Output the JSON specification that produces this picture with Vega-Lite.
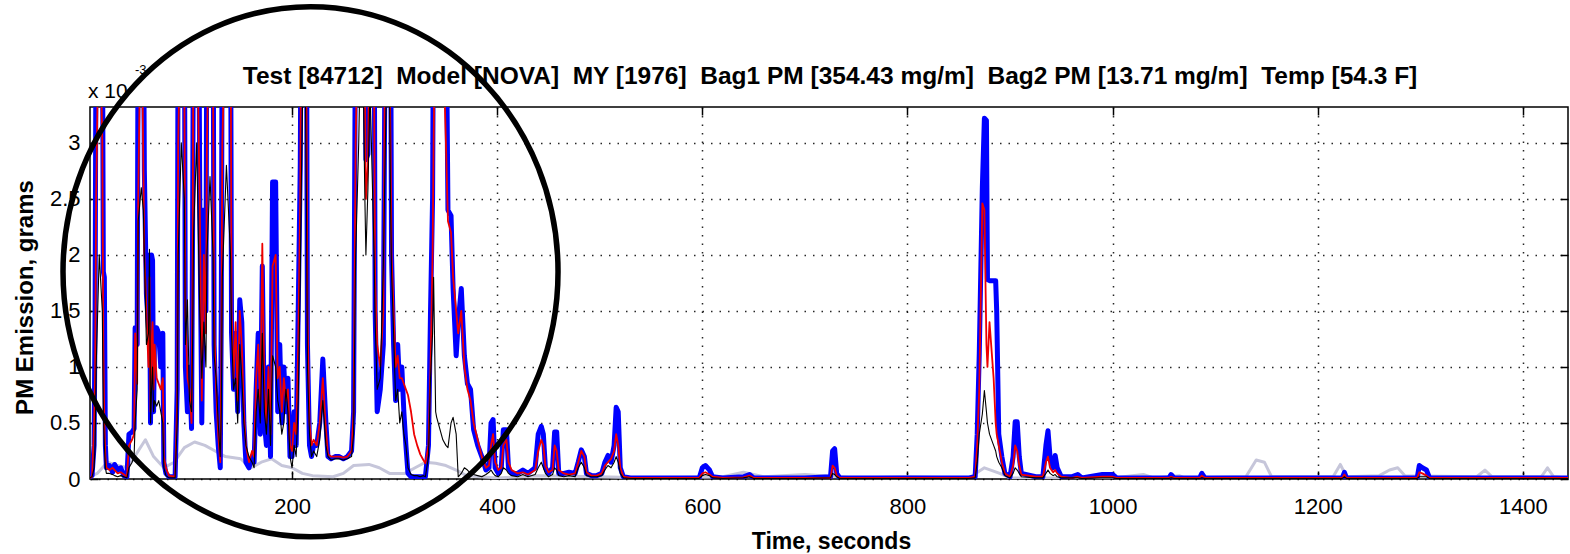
{
  "$schema": "https://vega.github.io/schema/vega-lite/v6.json",
  "autosize": "none",
  "width": 1478,
  "height": 372,
  "padding": {"left": 90, "top": 107, "right": 2, "bottom": 75},
  "background": "white",
  "config": {
    "view": {"stroke": "black", "strokeWidth": 1.5},
    "font": "Liberation Sans",
    "axis": {"labelFont": "Liberation Sans", "titleFont": "Liberation Sans", "labelColor": "black", "titleColor": "black"}
  },
  "datasets": {
    "main": [
      {"t":3,"b":0.02,"r":0.01,"k":0.01},
      {"t":5,"b":0.03,"r":0.02,"k":0.02},
      {"t":7,"b":0.3,"r":0.5,"k":0.1},
      {"t":8,"b":1.55,"r":0.95,"k":0.3},
      {"t":9,"b":4.5,"r":2.5,"k":1.0},
      {"t":12,"b":4.5,"r":4.5,"k":2.0},
      {"t":15,"b":4.5,"r":3.0,"k":1.5},
      {"t":16,"b":1.85,"r":1.2,"k":0.6},
      {"t":17,"b":1.8,"r":0.5,"k":0.3},
      {"t":18,"b":0.3,"r":0.2,"k":0.1},
      {"t":19,"b":0.1,"r":0.1,"k":0.05},
      {"t":22,"b":0.12,"r":0.08,"k":0.05},
      {"t":25,"b":0.06,"r":0.1,"k":0.04},
      {"t":27,"b":0.13,"r":0.08,"k":0.03},
      {"t":30,"b":0.08,"r":0.05,"k":0.02},
      {"t":33,"b":0.1,"r":0.06,"k":0.03},
      {"t":36,"b":0.03,"r":0.04,"k":0.02},
      {"t":39,"b":0.02,"r":0.02,"k":0.01},
      {"t":41,"b":0.4,"r":0.3,"k":0.1},
      {"t":44,"b":0.42,"r":0.35,"k":0.15},
      {"t":46,"b":0.45,"r":0.4,"k":0.2},
      {"t":47,"b":1.35,"r":1.3,"k":0.5},
      {"t":49,"b":1.2,"r":0.85,"k":0.8},
      {"t":50,"b":4.5,"r":2.5,"k":2.3},
      {"t":53,"b":4.5,"r":4.5,"k":2.6},
      {"t":55,"b":4.5,"r":2.8,"k":2.4},
      {"t":56,"b":2.75,"r":2.0,"k":2.0},
      {"t":58,"b":1.65,"r":1.5,"k":1.2},
      {"t":60,"b":1.35,"r":1.0,"k":1.3},
      {"t":61,"b":2.0,"r":1.8,"k":2.05},
      {"t":62,"b":0.5,"r":0.6,"k":0.5},
      {"t":63,"b":2.0,"r":1.2,"k":0.8},
      {"t":64,"b":1.95,"r":1.4,"k":1.0},
      {"t":65,"b":0.6,"r":0.8,"k":0.6},
      {"t":66,"b":1.35,"r":1.2,"k":0.7},
      {"t":68,"b":1.35,"r":0.9,"k":0.65},
      {"t":70,"b":1.3,"r":0.85,"k":0.7},
      {"t":72,"b":1.0,"r":0.8,"k":0.6},
      {"t":74,"b":1.3,"r":0.9,"k":0.5},
      {"t":75,"b":0.15,"r":0.2,"k":0.1},
      {"t":77,"b":0.05,"r":0.1,"k":0.03},
      {"t":80,"b":0.02,"r":0.03,"k":0.01},
      {"t":86,"b":0.02,"r":0.02,"k":0.01},
      {"t":88,"b":0.8,"r":0.7,"k":0.5},
      {"t":89,"b":4.5,"r":3.0,"k":2.0},
      {"t":92,"b":4.5,"r":4.5,"k":3.0},
      {"t":95,"b":4.5,"r":3.5,"k":2.5},
      {"t":96,"b":1.0,"r":1.5,"k":1.2},
      {"t":98,"b":0.6,"r":0.9,"k":1.6},
      {"t":100,"b":1.0,"r":0.8,"k":0.7},
      {"t":102,"b":0.45,"r":0.5,"k":0.6},
      {"t":103,"b":2.2,"r":1.8,"k":1.2},
      {"t":104,"b":4.5,"r":4.5,"k":2.2},
      {"t":107,"b":4.5,"r":4.5,"k":3.0},
      {"t":109,"b":4.5,"r":3.0,"k":2.0},
      {"t":110,"b":2.5,"r":2.5,"k":1.5},
      {"t":112,"b":0.5,"r":0.7,"k":0.9},
      {"t":114,"b":2.4,"r":2.0,"k":1.4},
      {"t":116,"b":1.5,"r":1.3,"k":1.0},
      {"t":117,"b":4.5,"r":3.0,"k":2.0},
      {"t":120,"b":4.5,"r":4.5,"k":2.7},
      {"t":123,"b":4.5,"r":3.5,"k":2.0},
      {"t":124,"b":1.2,"r":1.4,"k":1.1},
      {"t":126,"b":0.6,"r":0.8,"k":0.9},
      {"t":128,"b":0.3,"r":0.4,"k":0.5},
      {"t":130,"b":0.1,"r":0.15,"k":0.2},
      {"t":131,"b":1.5,"r":1.0,"k":0.6},
      {"t":132,"b":4.5,"r":3.0,"k":1.8},
      {"t":136,"b":4.5,"r":4.5,"k":2.8},
      {"t":140,"b":4.5,"r":4.5,"k":2.0},
      {"t":141,"b":1.3,"r":1.5,"k":1.3},
      {"t":143,"b":0.8,"r":0.9,"k":0.8},
      {"t":145,"b":1.3,"r":1.4,"k":0.9},
      {"t":147,"b":0.6,"r":0.7,"k":0.5},
      {"t":149,"b":1.6,"r":1.5,"k":1.2},
      {"t":151,"b":1.4,"r":1.2,"k":0.9},
      {"t":153,"b":0.5,"r":0.6,"k":0.5},
      {"t":155,"b":0.15,"r":0.3,"k":0.3},
      {"t":158,"b":0.1,"r":0.15,"k":0.2},
      {"t":161,"b":0.2,"r":0.25,"k":0.15},
      {"t":163,"b":0.15,"r":0.2,"k":0.1},
      {"t":165,"b":0.8,"r":0.9,"k":0.6},
      {"t":167,"b":1.3,"r":1.2,"k":0.8},
      {"t":169,"b":0.4,"r":0.6,"k":0.5},
      {"t":171,"b":1.9,"r":2.1,"k":1.3},
      {"t":173,"b":0.5,"r":0.8,"k":0.6},
      {"t":175,"b":0.3,"r":0.5,"k":0.4},
      {"t":177,"b":1.0,"r":1.0,"k":0.8},
      {"t":179,"b":0.2,"r":0.4,"k":0.3},
      {"t":181,"b":2.65,"r":1.9,"k":1.1},
      {"t":184,"b":2.65,"r":2.0,"k":1.0},
      {"t":186,"b":0.6,"r":0.9,"k":0.7},
      {"t":188,"b":1.2,"r":1.0,"k":0.6},
      {"t":190,"b":0.5,"r":0.6,"k":0.4},
      {"t":192,"b":1.0,"r":0.9,"k":0.5},
      {"t":194,"b":0.6,"r":0.7,"k":0.8},
      {"t":196,"b":0.9,"r":0.8,"k":0.6},
      {"t":198,"b":0.2,"r":0.3,"k":0.2},
      {"t":200,"b":0.2,"r":0.25,"k":0.1},
      {"t":202,"b":0.6,"r":0.5,"k":0.3},
      {"t":204,"b":0.3,"r":0.4,"k":0.2},
      {"t":206,"b":1.5,"r":1.2,"k":0.7},
      {"t":208,"b":2.8,"r":2.5,"k":1.8},
      {"t":209,"b":4.5,"r":4.5,"k":2.6},
      {"t":212,"b":4.5,"r":4.5,"k":4.5},
      {"t":214,"b":4.5,"r":3.5,"k":2.5},
      {"t":215,"b":1.2,"r":1.5,"k":1.0},
      {"t":217,"b":0.3,"r":0.5,"k":0.4},
      {"t":219,"b":0.2,"r":0.3,"k":0.2},
      {"t":221,"b":0.3,"r":0.35,"k":0.25},
      {"t":224,"b":0.3,"r":0.3,"k":0.2},
      {"t":227,"b":0.5,"r":0.5,"k":0.35},
      {"t":230,"b":1.07,"r":0.9,"k":0.7},
      {"t":233,"b":0.5,"r":0.45,"k":0.3},
      {"t":235,"b":0.2,"r":0.22,"k":0.2},
      {"t":238,"b":0.18,"r":0.2,"k":0.17},
      {"t":242,"b":0.2,"r":0.2,"k":0.18},
      {"t":246,"b":0.2,"r":0.2,"k":0.18},
      {"t":250,"b":0.18,"r":0.19,"k":0.17},
      {"t":254,"b":0.2,"r":0.2,"k":0.18},
      {"t":258,"b":0.25,"r":0.25,"k":0.2},
      {"t":260,"b":0.6,"r":0.6,"k":0.4},
      {"t":262,"b":4.5,"r":3.0,"k":2.0},
      {"t":265,"b":4.5,"r":4.5,"k":3.0},
      {"t":268,"b":4.5,"r":4.5,"k":4.5},
      {"t":271,"b":4.5,"r":3.5,"k":2.5},
      {"t":272,"b":2.85,"r":2.5,"k":2.0},
      {"t":274,"b":2.9,"r":2.8,"k":2.6},
      {"t":276,"b":4.5,"r":4.5,"k":3.5},
      {"t":280,"b":4.5,"r":3.5,"k":2.0},
      {"t":281,"b":1.5,"r":1.8,"k":1.4},
      {"t":283,"b":0.6,"r":1.2,"k":0.8},
      {"t":286,"b":0.8,"r":1.0,"k":0.9},
      {"t":289,"b":1.2,"r":1.5,"k":1.9},
      {"t":291,"b":4.5,"r":4.5,"k":3.0},
      {"t":294,"b":4.5,"r":4.5,"k":4.5},
      {"t":296,"b":4.5,"r":3.0,"k":2.5},
      {"t":297,"b":2.0,"r":2.0,"k":1.85},
      {"t":299,"b":1.2,"r":1.5,"k":1.3},
      {"t":301,"b":0.7,"r":1.0,"k":0.7},
      {"t":303,"b":1.2,"r":1.1,"k":0.8},
      {"t":305,"b":0.8,"r":0.9,"k":0.5},
      {"t":307,"b":1.0,"r":0.9,"k":0.6},
      {"t":309,"b":0.6,"r":0.85,"k":0.4},
      {"t":311,"b":0.3,"r":0.8,"k":0.3},
      {"t":313,"b":0.05,"r":0.75,"k":0.1},
      {"t":316,"b":0.02,"r":0.6,"k":0.04},
      {"t":319,"b":0.02,"r":0.4,"k":0.03},
      {"t":322,"b":0.02,"r":0.3,"k":0.03},
      {"t":325,"b":0.02,"r":0.22,"k":0.02},
      {"t":328,"b":0.02,"r":0.17,"k":0.03},
      {"t":330,"b":0.02,"r":0.14,"k":0.02},
      {"t":333,"b":0.3,"r":0.3,"k":0.2},
      {"t":335,"b":1.5,"r":1.0,"k":0.9},
      {"t":337,"b":2.5,"r":2.0,"k":1.3},
      {"t":338,"b":4.5,"r":3.0,"k":1.8},
      {"t":340,"b":4.5,"r":4.5,"k":0.6},
      {"t":341,"b":4.5,"r":4.5,"k":0.55},
      {"t":344,"b":4.5,"r":4.5,"k":0.45},
      {"t":347,"b":4.5,"r":4.0,"k":0.35},
      {"t":350,"b":4.5,"r":3.0,"k":0.3},
      {"t":352,"b":2.4,"r":2.3,"k":0.28},
      {"t":355,"b":2.35,"r":2.2,"k":0.5},
      {"t":357,"b":1.7,"r":1.8,"k":0.55},
      {"t":360,"b":1.1,"r":1.5,"k":0.4},
      {"t":362,"b":1.4,"r":1.3,"k":0.02},
      {"t":365,"b":1.7,"r":1.5,"k":0.05},
      {"t":368,"b":1.1,"r":1.0,"k":0.1},
      {"t":371,"b":0.85,"r":0.8,"k":0.08},
      {"t":374,"b":0.8,"r":0.7,"k":0.05},
      {"t":377,"b":0.44,"r":0.5,"k":0.04},
      {"t":381,"b":0.3,"r":0.35,"k":0.03},
      {"t":385,"b":0.2,"r":0.2,"k":0.02},
      {"t":389,"b":0.08,"r":0.1,"k":0.04},
      {"t":392,"b":0.1,"r":0.12,"k":0.06},
      {"t":394,"b":0.5,"r":0.3,"k":0.08},
      {"t":396,"b":0.53,"r":0.4,"k":0.05},
      {"t":398,"b":0.1,"r":0.15,"k":0.03},
      {"t":401,"b":0.05,"r":0.08,"k":0.02},
      {"t":404,"b":0.1,"r":0.1,"k":0.05},
      {"t":406,"b":0.44,"r":0.3,"k":0.1},
      {"t":409,"b":0.44,"r":0.35,"k":0.08},
      {"t":411,"b":0.1,"r":0.15,"k":0.05},
      {"t":414,"b":0.05,"r":0.08,"k":0.03},
      {"t":420,"b":0.05,"r":0.05,"k":0.02},
      {"t":425,"b":0.08,"r":0.06,"k":0.04},
      {"t":430,"b":0.05,"r":0.04,"k":0.02},
      {"t":437,"b":0.1,"r":0.08,"k":0.04},
      {"t":440,"b":0.4,"r":0.25,"k":0.1},
      {"t":443,"b":0.47,"r":0.35,"k":0.15},
      {"t":445,"b":0.4,"r":0.3,"k":0.1},
      {"t":447,"b":0.1,"r":0.12,"k":0.05},
      {"t":450,"b":0.05,"r":0.06,"k":0.02},
      {"t":454,"b":0.1,"r":0.08,"k":0.04},
      {"t":456,"b":0.42,"r":0.3,"k":0.1},
      {"t":458,"b":0.42,"r":0.25,"k":0.08},
      {"t":460,"b":0.05,"r":0.08,"k":0.03},
      {"t":465,"b":0.05,"r":0.05,"k":0.02},
      {"t":470,"b":0.06,"r":0.04,"k":0.03},
      {"t":476,"b":0.05,"r":0.05,"k":0.02},
      {"t":479,"b":0.15,"r":0.15,"k":0.1},
      {"t":482,"b":0.26,"r":0.25,"k":0.15},
      {"t":485,"b":0.2,"r":0.2,"k":0.1},
      {"t":487,"b":0.05,"r":0.06,"k":0.03},
      {"t":492,"b":0.03,"r":0.03,"k":0.02},
      {"t":497,"b":0.03,"r":0.03,"k":0.02},
      {"t":502,"b":0.05,"r":0.05,"k":0.03},
      {"t":505,"b":0.15,"r":0.12,"k":0.08},
      {"t":508,"b":0.21,"r":0.15,"k":0.12},
      {"t":511,"b":0.15,"r":0.18,"k":0.1},
      {"t":514,"b":0.3,"r":0.25,"k":0.15},
      {"t":516,"b":0.64,"r":0.4,"k":0.2},
      {"t":518,"b":0.6,"r":0.3,"k":0.15},
      {"t":520,"b":0.1,"r":0.1,"k":0.05},
      {"t":523,"b":0.02,"r":0.02,"k":0.01},
      {"t":530,"b":0.01,"r":0.01,"k":0.005},
      {"t":560,"b":0.01,"r":0.01,"k":0.005},
      {"t":597,"b":0.01,"r":0.01,"k":0.005},
      {"t":600,"b":0.1,"r":0.05,"k":0.03},
      {"t":603,"b":0.12,"r":0.06,"k":0.04},
      {"t":607,"b":0.08,"r":0.04,"k":0.03},
      {"t":610,"b":0.02,"r":0.02,"k":0.01},
      {"t":620,"b":0.01,"r":0.01,"k":0.005},
      {"t":640,"b":0.02,"r":0.015,"k":0.01},
      {"t":646,"b":0.04,"r":0.03,"k":0.02},
      {"t":650,"b":0.01,"r":0.01,"k":0.005},
      {"t":700,"b":0.01,"r":0.01,"k":0.005},
      {"t":725,"b":0.02,"r":0.01,"k":0.01},
      {"t":727,"b":0.25,"r":0.12,"k":0.05},
      {"t":729,"b":0.27,"r":0.1,"k":0.04},
      {"t":731,"b":0.05,"r":0.03,"k":0.02},
      {"t":734,"b":0.01,"r":0.01,"k":0.005},
      {"t":800,"b":0.01,"r":0.01,"k":0.005},
      {"t":860,"b":0.01,"r":0.01,"k":0.005},
      {"t":866,"b":0.02,"r":0.02,"k":0.01},
      {"t":868,"b":0.4,"r":0.3,"k":0.15},
      {"t":870,"b":1.12,"r":0.8,"k":0.4},
      {"t":873,"b":2.6,"r":2.46,"k":0.58},
      {"t":875,"b":3.22,"r":2.4,"k":0.79},
      {"t":877,"b":3.2,"r":1.2,"k":0.6},
      {"t":878,"b":1.78,"r":1.0,"k":0.5},
      {"t":880,"b":1.77,"r":1.4,"k":0.4},
      {"t":884,"b":1.77,"r":0.9,"k":0.3},
      {"t":886,"b":1.77,"r":0.5,"k":0.25},
      {"t":887,"b":1.5,"r":0.4,"k":0.2},
      {"t":889,"b":0.4,"r":0.3,"k":0.15},
      {"t":892,"b":0.2,"r":0.15,"k":0.1},
      {"t":895,"b":0.05,"r":0.05,"k":0.03},
      {"t":900,"b":0.02,"r":0.02,"k":0.01},
      {"t":903,"b":0.2,"r":0.12,"k":0.05},
      {"t":905,"b":0.51,"r":0.3,"k":0.1},
      {"t":907,"b":0.51,"r":0.25,"k":0.08},
      {"t":909,"b":0.2,"r":0.12,"k":0.05},
      {"t":911,"b":0.05,"r":0.04,"k":0.02},
      {"t":925,"b":0.02,"r":0.02,"k":0.01},
      {"t":932,"b":0.02,"r":0.02,"k":0.01},
      {"t":935,"b":0.3,"r":0.15,"k":0.05},
      {"t":937,"b":0.43,"r":0.2,"k":0.08},
      {"t":939,"b":0.2,"r":0.1,"k":0.05},
      {"t":942,"b":0.1,"r":0.06,"k":0.03},
      {"t":944,"b":0.21,"r":0.08,"k":0.04},
      {"t":946,"b":0.1,"r":0.05,"k":0.02},
      {"t":950,"b":0.02,"r":0.02,"k":0.01},
      {"t":960,"b":0.02,"r":0.01,"k":0.01},
      {"t":966,"b":0.04,"r":0.02,"k":0.01},
      {"t":970,"b":0.01,"r":0.01,"k":0.005},
      {"t":990,"b":0.04,"r":0.02,"k":0.01},
      {"t":1000,"b":0.04,"r":0.02,"k":0.01},
      {"t":1004,"b":0.01,"r":0.01,"k":0.005},
      {"t":1055,"b":0.01,"r":0.01,"k":0.005},
      {"t":1057,"b":0.04,"r":0.02,"k":0.01},
      {"t":1060,"b":0.01,"r":0.01,"k":0.005},
      {"t":1085,"b":0.01,"r":0.01,"k":0.005},
      {"t":1087,"b":0.05,"r":0.03,"k":0.01},
      {"t":1090,"b":0.01,"r":0.01,"k":0.005},
      {"t":1224,"b":0.01,"r":0.01,"k":0.005},
      {"t":1226,"b":0.06,"r":0.04,"k":0.02},
      {"t":1228,"b":0.01,"r":0.01,"k":0.005},
      {"t":1297,"b":0.01,"r":0.01,"k":0.005},
      {"t":1299,"b":0.12,"r":0.06,"k":0.02},
      {"t":1302,"b":0.1,"r":0.05,"k":0.02},
      {"t":1306,"b":0.08,"r":0.03,"k":0.02},
      {"t":1309,"b":0.01,"r":0.01,"k":0.005},
      {"t":1444,"b":0.01,"r":0.01,"k":0.005}
    ],
    "gray": [
      {"t":3,"v":0.02},{"t":10,"v":0.05},{"t":20,"v":0.15},{"t":30,"v":0.12},{"t":40,"v":0.1},
      {"t":50,"v":0.25},{"t":57,"v":0.35},{"t":65,"v":0.2},{"t":75,"v":0.1},{"t":85,"v":0.15},
      {"t":95,"v":0.28},{"t":105,"v":0.33},{"t":115,"v":0.3},{"t":125,"v":0.25},{"t":135,"v":0.2},
      {"t":150,"v":0.18},{"t":160,"v":0.1},{"t":170,"v":0.15},{"t":180,"v":0.18},{"t":190,"v":0.12},
      {"t":200,"v":0.1},{"t":210,"v":0.05},{"t":220,"v":0.03},{"t":240,"v":0.02},{"t":250,"v":0.05},
      {"t":260,"v":0.12},{"t":275,"v":0.13},{"t":285,"v":0.1},{"t":295,"v":0.05},{"t":310,"v":0.05},
      {"t":320,"v":0.1},{"t":330,"v":0.15},{"t":340,"v":0.14},{"t":350,"v":0.12},{"t":360,"v":0.08},
      {"t":370,"v":0.03},{"t":400,"v":0.01},{"t":440,"v":0.03},{"t":500,"v":0.02},{"t":550,"v":0.01},
      {"t":620,"v":0.02},{"t":640,"v":0.06},{"t":660,"v":0.02},{"t":700,"v":0.04},{"t":750,"v":0.01},
      {"t":800,"v":0.02},{"t":860,"v":0.01},{"t":875,"v":0.1},{"t":890,"v":0.05},{"t":900,"v":0.01},
      {"t":1000,"v":0.01},{"t":1030,"v":0.04},{"t":1040,"v":0.01},{"t":1065,"v":0.03},{"t":1070,"v":0.01},
      {"t":1130,"v":0.02},{"t":1140,"v":0.17},{"t":1148,"v":0.15},{"t":1155,"v":0.02},{"t":1215,"v":0.02},
      {"t":1222,"v":0.13},{"t":1228,"v":0.02},{"t":1260,"v":0.03},{"t":1270,"v":0.08},{"t":1278,"v":0.1},
      {"t":1285,"v":0.03},{"t":1355,"v":0.02},{"t":1363,"v":0.08},{"t":1370,"v":0.02},{"t":1418,"v":0.02},
      {"t":1424,"v":0.1},{"t":1430,"v":0.02},{"t":1444,"v":0.01}
    ],
    "ring": [{"t":218,"v":1.85}],
    "titles": [{"t":724.5,"v":3.32,"label":"Test [84712]\u00a0\u00a0Model [NOVA]\u00a0\u00a0MY [1976]\u00a0\u00a0Bag1 PM [354.43 mg/m]\u00a0\u00a0Bag2 PM [13.71 mg/m]\u00a0\u00a0Temp [54.3 F]"}]
  },
  "resolve": {"axis": {"x": "independent", "y": "independent"}},
  "layer": [
    {
      "data": {"name": "gray"},
      "mark": {"type": "line", "clip": true, "color": "#c6c6da", "strokeWidth": 3, "strokeJoin": "round"},
      "encoding": {
        "x": {"field": "t", "type": "quantitative",
          "scale": {"domain": [3, 1444], "nice": false, "zero": false},
          "axis": {"orient": "bottom", "values": [200,400,600,800,1000,1200,1400], "format": "d",
            "labelFontSize": 22, "labelPadding": 25, "tickSize": -8, "tickColor": "black", "tickWidth": 1.5,
            "domain": false, "grid": true, "gridColor": "black", "gridDash": [1.5, 7], "gridWidth": 1.5, "gridOpacity": 0.85,
            "title": "Time, seconds", "titleFontSize": 23, "titleFontWeight": "bold",
            "titleX": 741, "titleY": 62, "titleBaseline": "middle", "titleAlign": "center"}},
        "y": {"field": "v", "type": "quantitative",
          "scale": {"domain": [0, 3.32], "nice": false, "zero": true},
          "axis": {"orient": "left", "values": [0,0.5,1,1.5,2,2.5,3], "format": "~g",
            "labelFontSize": 22, "labelPadding": 18, "tickSize": -8, "tickColor": "black", "tickWidth": 1.5,
            "domain": false, "grid": true, "gridColor": "black", "gridDash": [1.5, 7], "gridWidth": 1.5, "gridOpacity": 0.85,
            "title": "PM Emission, grams", "titleFontSize": 24, "titleFontWeight": "bold",
            "titleX": -65, "titleY": 190, "titleAngle": -90, "titleBaseline": "middle", "titleAlign": "center"}}
      }
    },
    {
      "data": {"name": "main"},
      "mark": {"type": "line", "clip": true, "color": "#0000ff", "strokeWidth": 5, "strokeJoin": "round"},
      "encoding": {
        "x": {"field": "t", "type": "quantitative", "axis": null},
        "y": {"field": "b", "type": "quantitative", "axis": null}
      }
    },
    {
      "data": {"name": "main"},
      "mark": {"type": "line", "clip": true, "color": "#ee0000", "strokeWidth": 1.8, "strokeJoin": "round"},
      "encoding": {
        "x": {"field": "t", "type": "quantitative", "axis": null},
        "y": {"field": "r", "type": "quantitative", "axis": null}
      }
    },
    {
      "data": {"name": "main"},
      "mark": {"type": "line", "clip": true, "color": "#000000", "strokeWidth": 1.1, "strokeJoin": "round"},
      "encoding": {
        "x": {"field": "t", "type": "quantitative", "axis": null},
        "y": {"field": "k", "type": "quantitative", "axis": null}
      }
    },
    {
      "data": {"name": "titles"},
      "mark": {"type": "text", "fontSize": 24.5, "fontWeight": "bold", "align": "center", "baseline": "middle", "dy": -30, "color": "black", "font": "Liberation Sans"},
      "encoding": {
        "x": {"field": "t", "type": "quantitative", "axis": null},
        "y": {"field": "v", "type": "quantitative", "axis": null},
        "text": {"field": "label"}
      }
    },
    {
      "data": {"name": "ring"},
      "mark": {"type": "text", "text": "x 10", "fontSize": 21, "align": "left", "baseline": "middle", "dx": -2, "dy": -15, "color": "black"},
      "encoding": {
        "x": {"datum": 3, "type": "quantitative", "axis": null},
        "y": {"datum": 3.32, "type": "quantitative", "axis": null}
      }
    },
    {
      "data": {"name": "ring"},
      "mark": {"type": "text", "text": "-3", "fontSize": 13, "align": "left", "baseline": "middle", "dx": 45, "dy": -37, "color": "black"},
      "encoding": {
        "x": {"datum": 3, "type": "quantitative", "axis": null},
        "y": {"datum": 3.32, "type": "quantitative", "axis": null}
      }
    },
    {
      "data": {"name": "ring"},
      "mark": {"type": "point", "shape": "M0,-1C0.5158,-1 0.934,-0.5523 0.934,0C0.934,0.5523 0.5158,1 0,1C-0.5158,1 -0.934,0.5523 -0.934,0C-0.934,-0.5523 -0.5158,-1 0,-1Z",
        "size": 280900, "filled": false, "stroke": "black", "strokeWidth": 5.5, "opacity": 1, "clip": false},
      "encoding": {
        "x": {"field": "t", "type": "quantitative", "axis": null},
        "y": {"field": "v", "type": "quantitative", "axis": null}
      }
    },
    {
      "data": {"name": "ring"},
      "mark": {"type": "point", "opacity": 0, "size": 1},
      "encoding": {
        "x": {"field": "t", "type": "quantitative",
          "axis": {"orient": "top", "values": [200,400,600,800,1000,1200,1400], "labels": false, "title": null,
            "tickSize": -8, "tickColor": "black", "tickWidth": 1.5, "domain": false, "grid": false}},
        "y": {"field": "v", "type": "quantitative",
          "axis": {"orient": "right", "values": [0,0.5,1,1.5,2,2.5,3], "labels": false, "title": null,
            "tickSize": -8, "tickColor": "black", "tickWidth": 1.5, "domain": false, "grid": false}}
      }
    }
  ]
}
